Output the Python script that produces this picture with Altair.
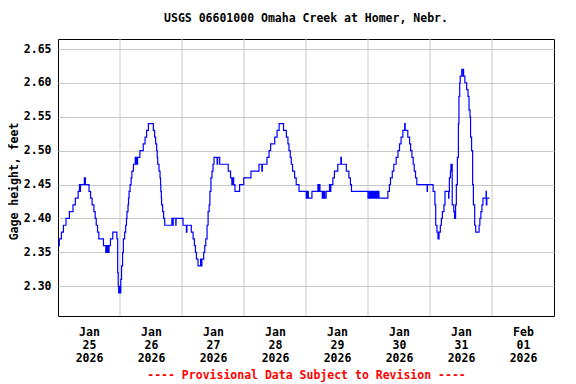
import json
import altair as alt
import pandas as pd

TITLE = "USGS 06601000 Omaha Creek at Homer, Nebr."
FOOTER = "---- Provisional Data Subject to Revision ----"
Y_TITLE = "Gage height, feet"

# hours since 2026-01-25 00:00 at which the gage reading changes, and the new reading (ft)
T_HOURS = [
    0.0, 0.5, 1.3, 2.1, 3.1, 4.4, 5.8, 6.7, 7.8, 8.3, 8.5, 8.7, 10.2, 10.6,
    12.0, 12.6, 13.2, 13.9, 14.4, 14.8, 15.3, 15.8, 17.6,
    18.5, 18.75, 19.0, 19.25, 19.5, 19.75, 20.3, 21.2, 22.8,
    23.1, 23.3, 23.5, 23.75, 24.0, 24.3, 24.6, 25.0, 25.3, 25.8, 26.2, 26.5, 26.7,
    27.1, 27.3, 27.5, 27.9, 28.3, 28.6, 29.2, 29.9, 30.2, 30.4, 30.6, 30.8,
    31.7, 33.0, 33.7, 34.3, 35.0, 36.9, 37.4, 37.8, 38.2, 38.4, 38.6, 39.1,
    39.5, 39.7, 39.8, 40.0, 40.1, 40.5, 40.9, 41.3, 44.1, 44.5, 44.6, 45.6, 45.7,
    48.4, 49.7, 49.9, 51.6, 52.3, 52.8, 53.2, 53.6, 54.2, 55.2, 55.4, 55.7,
    56.4, 56.8, 57.2, 57.7, 58.1, 58.5, 58.8, 59.2, 59.6, 60.0, 60.4, 61.6, 61.8,
    62.6, 65.9, 66.8, 67.3, 67.5, 68.0, 68.5, 70.3, 71.9, 74.7, 77.8, 78.9, 79.1,
    80.9, 81.7, 82.3, 83.9, 84.8, 85.6, 87.3, 88.4, 89.0, 89.4, 89.9, 90.3,
    90.8, 91.6, 92.2, 93.3, 96.1, 96.3, 96.5, 96.7, 96.9, 98.3, 100.6, 100.8,
    101.0, 101.4, 102.3, 102.5, 102.75, 103.0, 103.25, 103.8, 105.1, 105.3, 105.6,
    106.4, 107.0, 108.3, 109.5, 109.7, 111.6, 112.6, 113.2, 113.6,
    120.0, 120.5, 120.75, 121.0, 121.25, 121.5, 121.75, 122.0, 122.25, 122.5,
    122.75, 123.0, 123.25, 123.5, 123.75, 124.0, 124.25, 124.5,
    127.7, 128.3, 128.7, 129.4, 130.0, 130.9, 131.6, 132.2, 132.8, 133.5,
    134.2, 134.4, 135.4, 136.1, 136.5, 137.0, 137.5, 137.9, 138.4, 138.9,
    142.9, 143.0, 145.2, 145.9, 146.2, 146.7, 147.1, 147.3, 147.4, 147.5,
    148.0, 148.4, 148.8, 149.4, 149.8, 151.2, 151.3, 151.5, 151.9, 152.1,
    152.2, 152.4, 152.6, 153.2, 153.5, 153.9, 154.2, 154.6, 155.0, 155.2,
    155.5, 155.7, 156.3, 156.4, 156.5, 157.0, 157.5, 158.2, 158.7, 159.1,
    159.5, 159.7, 160.1, 160.5, 160.8, 161.3, 161.7, 163.0, 163.3, 163.7,
    164.1, 164.5, 165.7, 165.8, 166.0, 167.0,
]
GAGE_FT = [
    2.36, 2.37, 2.38, 2.39, 2.40, 2.41, 2.42, 2.43, 2.44, 2.45, 2.44, 2.45, 2.46, 2.45,
    2.44, 2.43, 2.42, 2.41, 2.40, 2.39, 2.38, 2.37, 2.36,
    2.35, 2.36, 2.35, 2.36, 2.35, 2.36, 2.37, 2.38, 2.37,
    2.32, 2.30, 2.29, 2.30, 2.29, 2.31, 2.33, 2.35, 2.37, 2.38, 2.39, 2.40, 2.41,
    2.42, 2.43, 2.44, 2.45, 2.46, 2.47, 2.48, 2.49, 2.48, 2.49, 2.48, 2.49,
    2.50, 2.51, 2.52, 2.53, 2.54, 2.53, 2.52, 2.51, 2.50, 2.49, 2.48, 2.47,
    2.46, 2.45, 2.44, 2.43, 2.42, 2.41, 2.40, 2.39, 2.40, 2.39, 2.40, 2.39, 2.40,
    2.39, 2.38, 2.39, 2.38, 2.37, 2.36, 2.35, 2.34, 2.33, 2.34, 2.33, 2.34,
    2.35, 2.36, 2.37, 2.39, 2.41, 2.42, 2.44, 2.46, 2.47, 2.48, 2.49, 2.48, 2.49,
    2.48, 2.47, 2.46, 2.45, 2.46, 2.45, 2.44, 2.45, 2.46, 2.47, 2.48, 2.47, 2.48,
    2.49, 2.50, 2.51, 2.52, 2.53, 2.54, 2.53, 2.52, 2.51, 2.50, 2.49, 2.48,
    2.47, 2.46, 2.45, 2.44, 2.43, 2.44, 2.43, 2.44, 2.43, 2.44, 2.45, 2.44,
    2.45, 2.44, 2.43, 2.44, 2.43, 2.44, 2.43, 2.44, 2.45, 2.44, 2.45,
    2.46, 2.47, 2.48, 2.49, 2.48, 2.47, 2.46, 2.45, 2.44,
    2.43, 2.44, 2.43, 2.44, 2.43, 2.44, 2.43, 2.44, 2.43, 2.44,
    2.43, 2.44, 2.43, 2.44, 2.43, 2.44, 2.43, 2.43,
    2.44, 2.45, 2.46, 2.47, 2.48, 2.49, 2.50, 2.51, 2.52, 2.53,
    2.54, 2.53, 2.52, 2.51, 2.50, 2.49, 2.48, 2.47, 2.46, 2.45,
    2.44, 2.45, 2.44, 2.42, 2.39, 2.38, 2.37, 2.38, 2.37, 2.38,
    2.39, 2.40, 2.41, 2.42, 2.44, 2.43, 2.44, 2.46, 2.47, 2.48,
    2.47, 2.48, 2.42, 2.41, 2.40, 2.42, 2.45, 2.49, 2.54, 2.58,
    2.60, 2.61, 2.62, 2.61, 2.62, 2.61, 2.60, 2.59, 2.58, 2.56,
    2.55, 2.52, 2.50, 2.45, 2.42, 2.39, 2.38, 2.39, 2.40, 2.41,
    2.42, 2.43, 2.44, 2.42, 2.43, 2.43,
]

DAY_LABELS = ["Jan 25 2026", "Jan 26 2026", "Jan 27 2026", "Jan 28 2026",
              "Jan 29 2026", "Jan 30 2026", "Jan 31 2026", "Feb 01 2026"]
LABEL_HOURS = [12, 36, 60, 84, 108, 132, 156, 180]
GRID_HOURS = [24, 48, 72, 96, 120, 144, 168]
Y_TICKS = [2.30, 2.35, 2.40, 2.45, 2.50, 2.55, 2.60, 2.65]
X_DOMAIN = [0, 192]
Y_DOMAIN = [2.2561, 2.6648]

FONT = "DejaVu Sans Mono"
FS = 11.5

df = pd.DataFrame({"h": T_HOURS, "v": GAGE_FT})
grid_df = pd.DataFrame({"h": GRID_HOURS})

label_expr = "split(" + json.dumps(DAY_LABELS) + "[floor(datum.value / 24)], ' ')"

x_axis = alt.Axis(
    values=LABEL_HOURS, labelExpr=label_expr, grid=False, ticks=False, domain=False,
    title=FOOTER, titleColor="#ff0000", titleFont=FONT, titleFontSize=FS,
    titleFontWeight="bold", titlePadding=6,
    labelFont=FONT, labelFontSize=FS, labelFontWeight="bold", labelColor="black",
    labelPadding=10, labelLineHeight=13, labelBaseline="top", labelAngle=0,
)
x_enc = alt.X("h:Q", scale=alt.Scale(domain=X_DOMAIN, nice=False, zero=False), axis=x_axis)

vgrid = alt.Chart(grid_df).mark_rule(color="#c8c8c8", strokeWidth=1).encode(x=x_enc)

line = alt.Chart(df).mark_line(color="#0000ff", strokeWidth=1.2, interpolate="step-after").encode(
    x=x_enc,
    y=alt.Y(
        "v:Q",
        scale=alt.Scale(domain=Y_DOMAIN, nice=False, zero=False),
        axis=alt.Axis(
            values=Y_TICKS, format=".2f", grid=True, gridColor="#c8c8c8", ticks=False,
            domain=False, title=Y_TITLE, titleFont=FONT, titleFontSize=FS,
            titleFontWeight="bold", titleColor="black", titlePadding=4, titleY=142,
            labelFont=FONT, labelFontSize=FS, labelFontWeight="bold", labelColor="black",
            labelPadding=7,
        ),
    ),
)

chart = (
    alt.layer(vgrid, line)
    .properties(
        width=496, height=277,
        title=alt.TitleParams(TITLE, font=FONT, fontSize=FS, fontWeight="bold",
                              color="black", anchor="middle", offset=14),
        autosize=alt.AutoSizeParams(type="none"),
        padding={"left": 50, "top": 31, "right": 14, "bottom": 68},
        background="white",
    )
    .configure_view(stroke="black", strokeWidth=1)
)

chart.save("out.html", embed_options={"renderer": "svg", "actions": False})
